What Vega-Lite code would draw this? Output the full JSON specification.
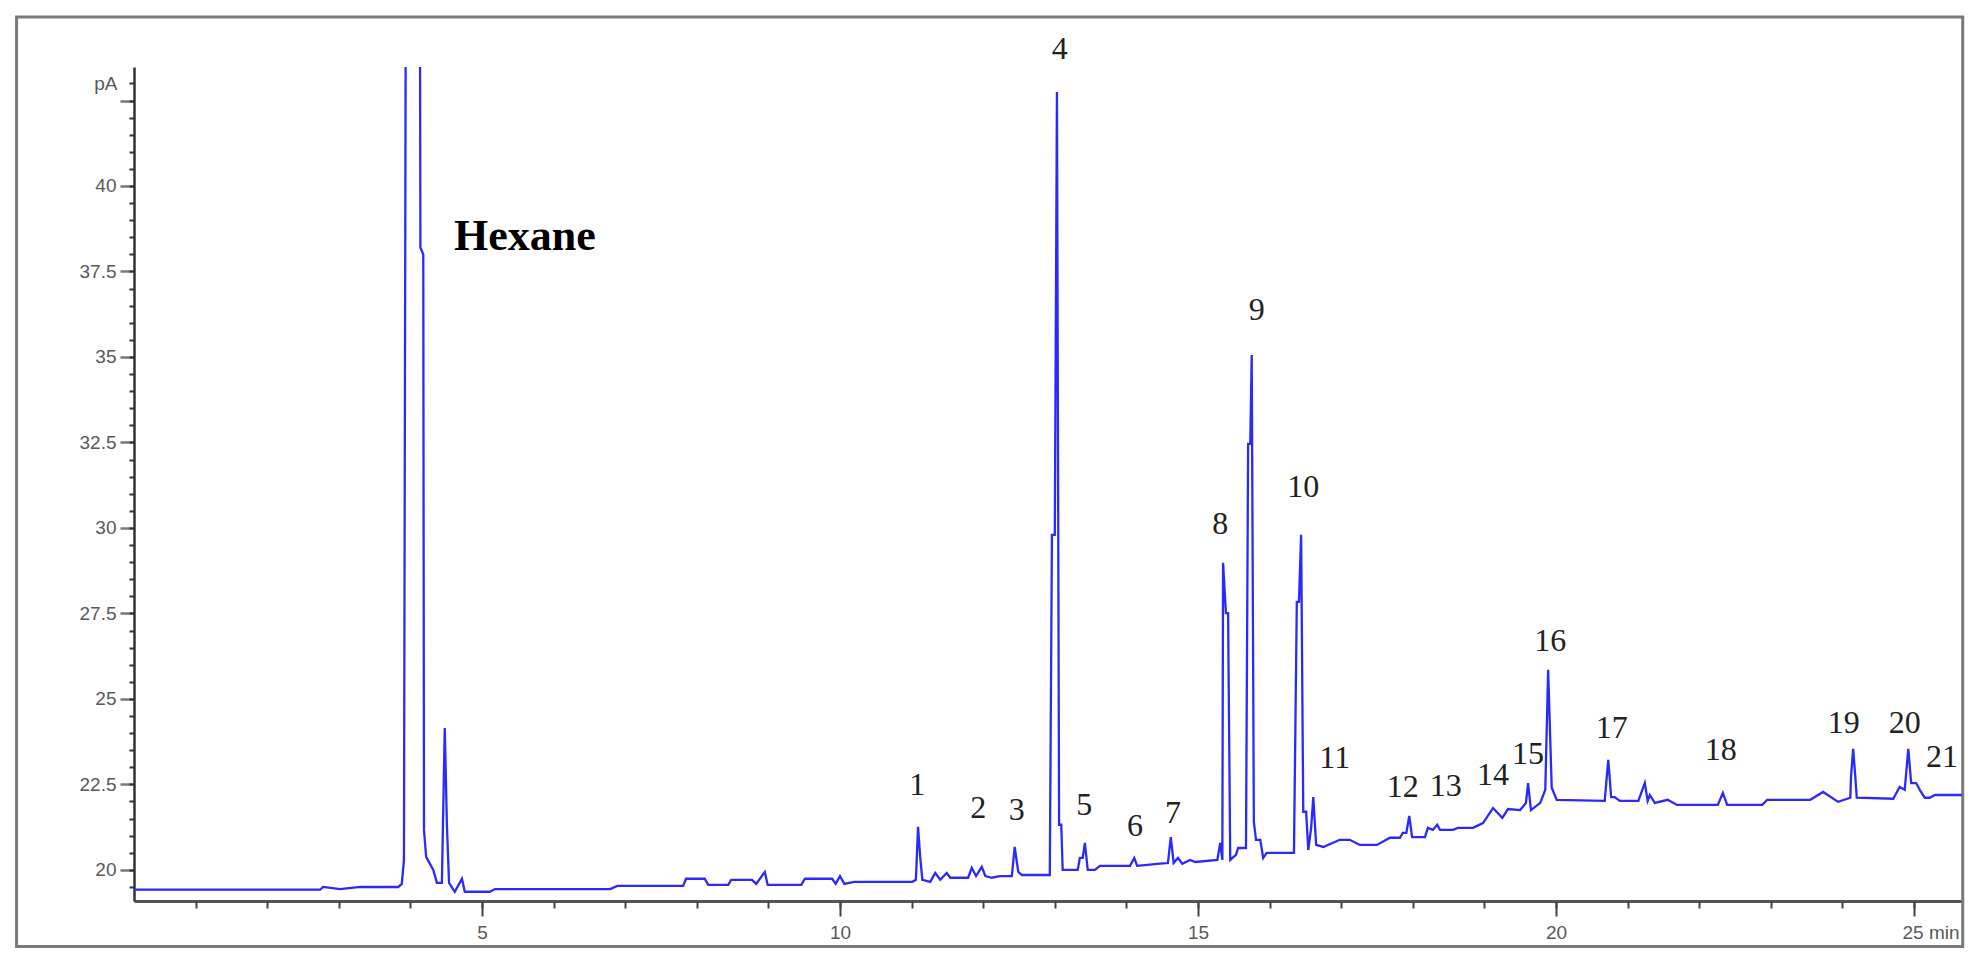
{
  "$schema": "https://vega.github.io/schema/vega-lite/v6.json",
  "width": 1828,
  "height": 834,
  "autosize": {"type": "none"},
  "padding": {"left": 134, "top": 67, "right": 18, "bottom": 62},
  "background": "white",
  "config": {"view": {"stroke": null}, "axis": {"grid": false, "title": null}},
  "datasets": {
    "trace": [
      {"t":0.14,"v":19.42},{"t":2.74,"v":19.42},{"t":2.78,"v":19.5},{"t":3.02,"v":19.44},{"t":3.3,"v":19.5},{"t":3.83,"v":19.5},{"t":3.88,"v":19.59},{"t":3.91,"v":20.29},{"t":3.94,"v":50},{"t":4.13,"v":50},{"t":4.14,"v":38.2},{"t":4.18,"v":38.0},{"t":4.19,"v":21.17},{"t":4.22,"v":20.38},{"t":4.32,"v":20.0},{"t":4.37,"v":19.62},{"t":4.44,"v":19.62},{"t":4.48,"v":24.15},{"t":4.51,"v":21.32},{"t":4.54,"v":19.62},{"t":4.62,"v":19.36},{"t":4.72,"v":19.74},{"t":4.76,"v":19.36},{"t":5.11,"v":19.36},{"t":5.18,"v":19.44},{"t":6.79,"v":19.44},{"t":6.89,"v":19.53},{"t":7.81,"v":19.53},{"t":7.85,"v":19.74},{"t":8.11,"v":19.74},{"t":8.16,"v":19.56},{"t":8.44,"v":19.56},{"t":8.48,"v":19.71},{"t":8.77,"v":19.71},{"t":8.83,"v":19.59},{"t":8.95,"v":19.94},{"t":8.99,"v":19.56},{"t":9.46,"v":19.56},{"t":9.51,"v":19.74},{"t":9.89,"v":19.74},{"t":9.94,"v":19.59},{"t":10.0,"v":19.82},{"t":10.06,"v":19.59},{"t":10.2,"v":19.65},{"t":11.01,"v":19.65},{"t":11.06,"v":19.71},{"t":11.09,"v":21.26},{"t":11.12,"v":20.38},{"t":11.15,"v":19.71},{"t":11.26,"v":19.65},{"t":11.33,"v":19.91},{"t":11.4,"v":19.71},{"t":11.49,"v":19.91},{"t":11.54,"v":19.77},{"t":11.79,"v":19.77},{"t":11.84,"v":20.06},{"t":11.9,"v":19.82},{"t":11.98,"v":20.09},{"t":12.03,"v":19.82},{"t":12.12,"v":19.77},{"t":12.23,"v":19.82},{"t":12.4,"v":19.82},{"t":12.44,"v":20.67},{"t":12.49,"v":19.94},{"t":12.54,"v":19.85},{"t":12.93,"v":19.85},{"t":12.96,"v":29.8},{"t":13.0,"v":29.8},{"t":13.03,"v":42.75},{"t":13.06,"v":21.32},{"t":13.09,"v":21.32},{"t":13.11,"v":20.0},{"t":13.32,"v":20.0},{"t":13.35,"v":20.35},{"t":13.39,"v":20.35},{"t":13.42,"v":20.79},{"t":13.46,"v":20.0},{"t":13.56,"v":20.0},{"t":13.63,"v":20.12},{"t":14.05,"v":20.12},{"t":14.11,"v":20.35},{"t":14.15,"v":20.12},{"t":14.47,"v":20.18},{"t":14.58,"v":20.2},{"t":14.62,"v":20.96},{"t":14.66,"v":20.2},{"t":14.72,"v":20.35},{"t":14.78,"v":20.18},{"t":14.89,"v":20.29},{"t":14.96,"v":20.23},{"t":15.27,"v":20.29},{"t":15.31,"v":20.79},{"t":15.34,"v":20.29},{"t":15.35,"v":28.98},{"t":15.39,"v":27.51},{"t":15.42,"v":27.51},{"t":15.45,"v":20.29},{"t":15.53,"v":20.44},{"t":15.56,"v":20.64},{"t":15.67,"v":20.64},{"t":15.7,"v":32.46},{"t":15.73,"v":32.46},{"t":15.75,"v":35.06},{"t":15.78,"v":21.4},{"t":15.81,"v":20.88},{"t":15.87,"v":20.88},{"t":15.91,"v":20.35},{"t":15.96,"v":20.5},{"t":16.34,"v":20.5},{"t":16.38,"v":27.84},{"t":16.41,"v":27.84},{"t":16.44,"v":29.8},{"t":16.47,"v":21.7},{"t":16.51,"v":21.7},{"t":16.54,"v":20.58},{"t":16.58,"v":21.23},{"t":16.61,"v":22.13},{"t":16.65,"v":20.73},{"t":16.75,"v":20.67},{"t":16.98,"v":20.88},{"t":17.12,"v":20.88},{"t":17.26,"v":20.73},{"t":17.5,"v":20.73},{"t":17.68,"v":20.94},{"t":17.82,"v":20.94},{"t":17.86,"v":21.08},{"t":17.91,"v":21.08},{"t":17.95,"v":21.58},{"t":17.99,"v":20.96},{"t":18.17,"v":20.96},{"t":18.21,"v":21.23},{"t":18.28,"v":21.17},{"t":18.34,"v":21.32},{"t":18.38,"v":21.17},{"t":18.56,"v":21.17},{"t":18.63,"v":21.23},{"t":18.84,"v":21.23},{"t":18.98,"v":21.37},{"t":19.12,"v":21.81},{"t":19.25,"v":21.52},{"t":19.33,"v":21.78},{"t":19.5,"v":21.75},{"t":19.58,"v":21.96},{"t":19.61,"v":22.54},{"t":19.65,"v":21.75},{"t":19.78,"v":21.96},{"t":19.85,"v":22.34},{"t":19.89,"v":25.85},{"t":19.94,"v":22.4},{"t":20.01,"v":22.05},{"t":20.68,"v":22.02},{"t":20.73,"v":23.22},{"t":20.77,"v":22.13},{"t":20.82,"v":22.13},{"t":20.89,"v":22.02},{"t":21.15,"v":22.02},{"t":21.24,"v":22.54},{"t":21.28,"v":22.02},{"t":21.31,"v":22.19},{"t":21.38,"v":21.96},{"t":21.56,"v":22.05},{"t":21.69,"v":21.9},{"t":22.26,"v":21.9},{"t":22.33,"v":22.25},{"t":22.39,"v":21.9},{"t":22.88,"v":21.9},{"t":22.95,"v":22.05},{"t":23.55,"v":22.05},{"t":23.73,"v":22.28},{"t":23.94,"v":21.99},{"t":24.11,"v":22.11},{"t":24.12,"v":22.72},{"t":24.15,"v":23.54},{"t":24.18,"v":22.72},{"t":24.2,"v":22.11},{"t":24.71,"v":22.08},{"t":24.8,"v":22.43},{"t":24.87,"v":22.34},{"t":24.92,"v":23.54},{"t":24.96,"v":22.54},{"t":25.03,"v":22.54},{"t":25.08,"v":22.34},{"t":25.15,"v":22.11},{"t":25.22,"v":22.11},{"t":25.29,"v":22.19},{"t":25.67,"v":22.19}
    ],
    "peaks": [
      {"label":"1","t":11.08,"v":22.49},{"label":"2","t":11.93,"v":21.81},{"label":"3","t":12.47,"v":21.75},{"label":"4","t":13.07,"v":44.01},{"label":"5","t":13.41,"v":21.9},{"label":"6","t":14.12,"v":21.29},{"label":"7","t":14.65,"v":21.67},{"label":"8","t":15.31,"v":30.12},{"label":"9","t":15.82,"v":36.37},{"label":"10","t":16.47,"v":31.2},{"label":"11","t":16.91,"v":23.27},{"label":"12","t":17.86,"v":22.43},{"label":"13","t":18.46,"v":22.46},{"label":"14","t":19.12,"v":22.78},{"label":"15","t":19.61,"v":23.39},{"label":"16","t":19.92,"v":26.7},{"label":"17","t":20.78,"v":24.15},{"label":"18","t":22.3,"v":23.51},{"label":"19","t":24.02,"v":24.3},{"label":"20","t":24.87,"v":24.3},{"label":"21","t":25.39,"v":23.3}
    ]
  },
  "layer": [
    {
      "data": {"values": [{}]},
      "mark": {"type": "rect", "fillOpacity": 0, "stroke": "#7a7a7a", "strokeWidth": 3, "clip": false},
      "encoding": {
        "x": {"datum": -1.5, "type": "quantitative", "scale": {"domain": [0.14, 25.67], "nice": false, "zero": false}, "axis": null},
        "x2": {"datum": 25.68},
        "y": {"datum": 44.94, "type": "quantitative", "scale": {"domain": [19.09, 43.48], "nice": false, "zero": false}, "axis": null},
        "y2": {"datum": 17.76}
      }
    },
    {
      "data": {"name": "trace"},
      "mark": {"type": "line", "color": "#2a2aff", "strokeWidth": 2.3, "clip": true},
      "encoding": {
        "x": {"field": "t", "type": "quantitative", "scale": {"domain": [0.14, 25.67], "nice": false, "zero": false},
          "axis": {"orient": "bottom", "values": [5, 10, 15, 20, 25], "tickSize": 15, "tickWidth": 2, "tickColor": "#444",
            "domainColor": "#555", "domainWidth": 3, "labelFont": "Liberation Sans", "labelFontSize": 19, "labelColor": "#5a5a5a", "labelPadding": 7,
            "labelExpr": "datum.value == 25 ? '25 min' : datum.label",
            "labelAlign": {"condition": {"test": "datum.value == 25", "value": "left"}, "value": "center"},
            "labelOffset": {"condition": {"test": "datum.value == 25", "value": -12}, "value": 0}}},
        "y": {"field": "v", "type": "quantitative", "scale": {"domain": [19.09, 43.48], "nice": false, "zero": false},
          "axis": {"orient": "left", "values": [20, 22.5, 25, 27.5, 30, 32.5, 35, 37.5, 40, 42.5], "tickSize": 14, "tickWidth": 2.5, "tickColor": "#777",
            "domainColor": "#333", "domainWidth": 2.5, "labelFont": "Liberation Sans", "labelFontSize": 19, "labelColor": "#5a5a5a", "labelPadding": 4,
            "labelExpr": "datum.value == 42.5 ? '' : '' + datum.value"}}
      }
    },
    {
      "data": {"name": "peaks"},
      "mark": {"type": "text", "font": "Liberation Serif", "fontSize": 32, "color": "#222", "baseline": "middle", "align": "center", "clip": false},
      "encoding": {
        "x": {"field": "t", "type": "quantitative", "scale": {"domain": [0.14, 25.67], "nice": false, "zero": false},
          "axis": {"orient": "bottom", "values": [1,2,3,4,5,6,7,8,9,10,11,12,13,14,15,16,17,18,19,20,21,22,23,24,25], "tickSize": 7, "tickWidth": 2, "tickColor": "#444", "domain": false, "labels": false}},
        "y": {"field": "v", "type": "quantitative", "scale": {"domain": [19.09, 43.48], "nice": false, "zero": false},
          "axis": {"orient": "left", "values": [19.5,20,20.5,21,21.5,22,22.5,23,23.5,24,24.5,25,25.5,26,26.5,27,27.5,28,28.5,29,29.5,30,30.5,31,31.5,32,32.5,33,33.5,34,34.5,35,35.5,36,36.5,37,37.5,38,38.5,39,39.5,40,40.5,41,41.5,42,42.5,43],
            "tickSize": 5, "tickWidth": 2, "tickColor": "#333", "domain": false, "labelFont": "Liberation Sans", "labelFontSize": 19, "labelColor": "#5a5a5a", "labelPadding": 12,
            "labelExpr": "datum.value == 43 ? 'pA' : ''"}},
        "text": {"field": "label", "type": "nominal"}
      }
    },
    {
      "data": {"values": [{"label": "Hexane", "t": 5.6, "v": 38.51}]},
      "mark": {"type": "text", "font": "Liberation Serif", "fontWeight": "bold", "fontSize": 44, "color": "#000", "baseline": "middle", "align": "center", "clip": false},
      "encoding": {
        "x": {"field": "t", "type": "quantitative", "scale": {"domain": [0.14, 25.67], "nice": false, "zero": false}, "axis": null},
        "y": {"field": "v", "type": "quantitative", "scale": {"domain": [19.09, 43.48], "nice": false, "zero": false}, "axis": null},
        "text": {"field": "label", "type": "nominal"}
      }
    }
  ],
  "resolve": {"axis": {"x": "independent", "y": "independent"}}
}
